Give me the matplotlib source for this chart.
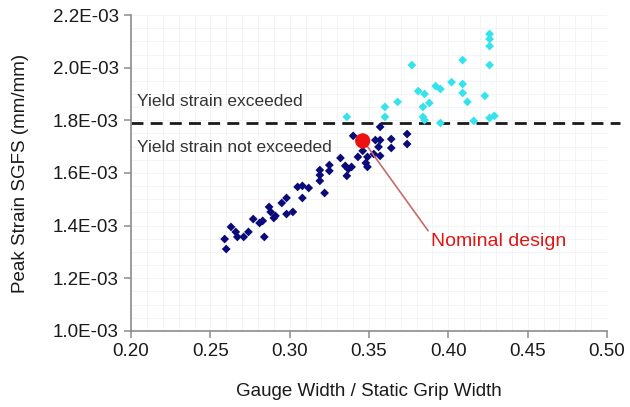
import matplotlib
matplotlib.use("Agg")
import matplotlib.pyplot as plt
from matplotlib.ticker import MultipleLocator, FormatStrFormatter

plt.rcParams['font.family'] = ['Liberation Sans', 'DejaVu Sans']

# Points below yield (navy)
below_x = [0.260, 0.259, 0.263, 0.266, 0.267, 0.271, 0.274, 0.277, 0.281, 0.283,
           0.284, 0.287, 0.288, 0.290, 0.291, 0.295, 0.298, 0.298, 0.302, 0.305,
           0.308, 0.312, 0.308, 0.319, 0.322, 0.319, 0.319, 0.325, 0.325, 0.332,
           0.335, 0.337, 0.339, 0.336, 0.343, 0.346, 0.349, 0.353, 0.357, 0.348,
           0.349, 0.340, 0.354, 0.357, 0.357, 0.356, 0.364, 0.364, 0.374, 0.374]
below_y = [1.311, 1.349, 1.395, 1.376, 1.357, 1.357, 1.376, 1.425, 1.410, 1.418,
           1.357, 1.471, 1.452, 1.429, 1.437, 1.486, 1.505, 1.444, 1.452, 1.547,
           1.551, 1.543, 1.505, 1.570, 1.524, 1.611, 1.592, 1.630, 1.608, 1.657,
           1.627, 1.615, 1.623, 1.589, 1.661, 1.684, 1.661, 1.672, 1.665, 1.638,
           1.623, 1.741, 1.725, 1.725, 1.775, 1.699, 1.729, 1.695, 1.748, 1.710]

# Points above yield (cyan)
above_x = [0.336, 0.360, 0.360, 0.368, 0.377, 0.381, 0.385, 0.384, 0.388, 0.384,
           0.385, 0.392, 0.395, 0.395, 0.402, 0.409, 0.409, 0.409, 0.412, 0.416,
           0.423, 0.426, 0.426, 0.426, 0.426, 0.426, 0.429]
above_y = [1.813, 1.851, 1.813, 1.870, 2.010, 1.911, 1.900, 1.851, 1.866, 1.813,
           1.801, 1.930, 1.919, 1.790, 1.945, 2.029, 1.938, 1.904, 1.870, 1.798,
           1.893, 2.128, 2.109, 2.082, 2.010, 1.809, 1.817]

nominal_x = [0.346]
nominal_y = [1.722]

yield_strain = 1.79e-3

x_ticks = [0.20, 0.25, 0.30, 0.35, 0.40, 0.45, 0.50]
y_ticks = [1.0e-3, 1.2e-3, 1.4e-3, 1.6e-3, 1.8e-3, 2.0e-3, 2.2e-3]

fig = plt.figure(figsize=(6.3, 4.07), dpi=100)
ax = fig.add_axes([0.208, 0.187, 0.7555, 0.776])

ax.set_xlim(0.20, 0.50)
ax.set_ylim(1.0e-3, 2.2e-3)

ax.xaxis.set_minor_locator(MultipleLocator(0.01))
ax.yaxis.set_minor_locator(MultipleLocator(0.05e-3))
ax.grid(which='both', color='#f0f3f5', lw=0.6, zorder=0)
ax.set_axisbelow(True)

ax.scatter(below_x, [v * 1e-3 for v in below_y], marker='D', s=20, color='#0a0a78',
           edgecolors='none', zorder=3)
ax.scatter(above_x, [v * 1e-3 for v in above_y], marker='D', s=20, color='#35e3ee',
           edgecolors='none', zorder=3)
ax.scatter(nominal_x, [v * 1e-3 for v in nominal_y], marker='o', s=120, color='#ee1111',
           edgecolors='none', zorder=4)

ax.plot([0.20, 0.508], [yield_strain, yield_strain], color='#1a1a1a', lw=2,
        linestyle=(0, (4.3, 2.6)), clip_on=False, zorder=2)

ax.text(0.2038, 1.873e-3, 'Yield strain exceeded', fontsize=12.5, color='#333333',
        va='center', ha='left')
ax.text(0.2038, 1.695e-3, 'Yield strain not exceeded', fontsize=12.5, color='#333333',
        va='center', ha='left')

ax.annotate('Nominal design', xy=(0.3487, 1.703e-3), xytext=(0.389, 1.340e-3),
            fontsize=14, color='#e01515', va='center', ha='left',
            arrowprops=dict(arrowstyle='-', color='#c96a6a', lw=1.2,
                            shrinkA=0, shrinkB=0, relpos=(0, 0.9)))

ax.set_xticks(x_ticks)
ax.set_yticks(y_ticks)
ax.xaxis.set_major_formatter(FormatStrFormatter('%.2f'))
ax.yaxis.set_major_formatter(FormatStrFormatter('%.1E'))
ax.tick_params(which='major', direction='out', length=5, width=1.1, color='#8c8c8c',
               labelsize=13.5, labelcolor='#1a1a1a', pad=4)
ax.tick_params(which='minor', length=0)

for s in ['top', 'right']:
    ax.spines[s].set_visible(False)
for s in ['left', 'bottom']:
    ax.spines[s].set_color('#8c8c8c')
    ax.spines[s].set_linewidth(1.2)

ax.set_xlabel('Gauge Width / Static Grip Width', fontsize=13.5, color='#1a1a1a', labelpad=16)
ax.set_ylabel('Peak Strain SGFS (mm/mm)', fontsize=13.5, color='#1a1a1a', labelpad=17)

fig.savefig('out.png', dpi=100)
